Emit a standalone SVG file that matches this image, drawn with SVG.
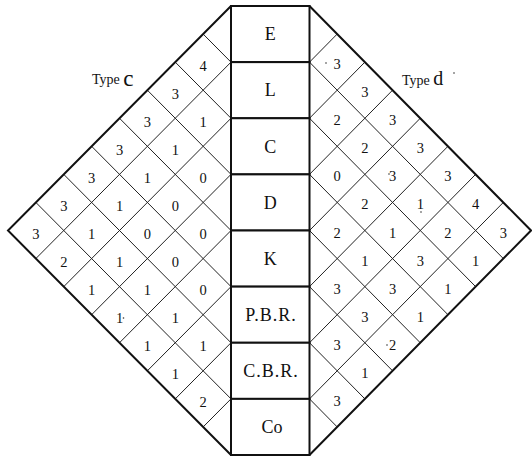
<svg xmlns="http://www.w3.org/2000/svg" width="532" height="457" viewBox="0 0 532 457">
  <style>
    .bg { fill: #ffffff; }
    .edge { fill: none; stroke: #111; stroke-width: 2; stroke-linejoin: miter; }
    .grid line { stroke: #222; stroke-width: 1; }
    .cell { fill: #ffffff; stroke: #111; stroke-width: 2; }
    .lbl { font-family: "Liberation Serif", "Times New Roman", serif; font-size: 18px; fill: #111; text-anchor: middle; }
    .num { font-family: "Liberation Serif", "Times New Roman", serif; font-size: 14.5px; fill: #111; text-anchor: middle; }
    .ttl { font-family: "Liberation Serif", "Times New Roman", serif; font-size: 14px; fill: #111; }
    .speck { fill: #333; }
  </style>
  <rect class="bg" x="0" y="0" width="532" height="457"/>

  <!-- diagonal grids on both sides of the column -->
  <g id="connectors">
    <g id="grid-left" class="grid">
      <line x1="231" y1="62.13" x2="203.13" y2="34.06"/>
      <line x1="231" y1="118.25" x2="175.25" y2="62.13"/>
      <line x1="231" y1="174.38" x2="147.38" y2="90.19"/>
      <line x1="231" y1="230.5" x2="119.5" y2="118.25"/>
      <line x1="231" y1="286.63" x2="91.63" y2="146.31"/>
      <line x1="231" y1="342.75" x2="63.75" y2="174.38"/>
      <line x1="231" y1="398.88" x2="35.88" y2="202.44"/>
      <line x1="231" y1="62.13" x2="35.88" y2="258.56"/>
      <line x1="231" y1="118.25" x2="63.75" y2="286.63"/>
      <line x1="231" y1="174.38" x2="91.63" y2="314.69"/>
      <line x1="231" y1="230.5" x2="119.5" y2="342.75"/>
      <line x1="231" y1="286.63" x2="147.38" y2="370.81"/>
      <line x1="231" y1="342.75" x2="175.25" y2="398.88"/>
      <line x1="231" y1="398.88" x2="203.13" y2="426.94"/>
    </g>
    <g id="grid-right" class="grid">
      <line x1="309.5" y1="62.13" x2="337.19" y2="34.06"/>
      <line x1="309.5" y1="118.25" x2="364.88" y2="62.13"/>
      <line x1="309.5" y1="174.38" x2="392.56" y2="90.19"/>
      <line x1="309.5" y1="230.5" x2="420.25" y2="118.25"/>
      <line x1="309.5" y1="286.63" x2="447.94" y2="146.31"/>
      <line x1="309.5" y1="342.75" x2="475.63" y2="174.38"/>
      <line x1="309.5" y1="398.88" x2="503.31" y2="202.44"/>
      <line x1="309.5" y1="62.13" x2="503.31" y2="258.56"/>
      <line x1="309.5" y1="118.25" x2="475.63" y2="286.63"/>
      <line x1="309.5" y1="174.38" x2="447.94" y2="314.69"/>
      <line x1="309.5" y1="230.5" x2="420.25" y2="342.75"/>
      <line x1="309.5" y1="286.63" x2="392.56" y2="370.81"/>
      <line x1="309.5" y1="342.75" x2="364.88" y2="398.88"/>
      <line x1="309.5" y1="398.88" x2="337.19" y2="426.94"/>
    </g>
    <polyline id="outline-left" class="edge" points="231,6 8,230.5 231,455"/>
    <polyline id="outline-right" class="edge" points="309.5,6 531,230.5 309.5,455"/>
  </g>

  <!-- central column of named rows -->
  <g id="row-E"><rect class="cell" x="231" y="6" width="78.5" height="56.13"/><text class="lbl" x="270.25" y="40">E</text></g>
  <g id="row-L"><rect class="cell" x="231" y="62.13" width="78.5" height="56.13"/><text class="lbl" x="270.25" y="96">L</text></g>
  <g id="row-C"><rect class="cell" x="231" y="118.25" width="78.5" height="56.13"/><text class="lbl" x="270.25" y="152.5">C</text></g>
  <g id="row-D"><rect class="cell" x="231" y="174.38" width="78.5" height="56.13"/><text class="lbl" x="270.25" y="208.5">D</text></g>
  <g id="row-K"><rect class="cell" x="231" y="230.5" width="78.5" height="56.13"/><text class="lbl" x="270.25" y="264.5">K</text></g>
  <g id="row-PBR"><rect class="cell" x="231" y="286.63" width="78.5" height="56.13"/><text class="lbl" x="271" y="321" letter-spacing="1">P.B.R.</text></g>
  <g id="row-CBR"><rect class="cell" x="231" y="342.75" width="78.5" height="56.13"/><text class="lbl" x="271" y="377" letter-spacing="1">C.B.R.</text></g>
  <g id="row-Co"><rect class="cell" x="231" y="398.88" width="78.5" height="56.12"/><text class="lbl" x="272" y="433">Co</text></g>

  <!-- side titles -->
  <g id="title-c"><text class="ttl" x="92" y="84">Type <tspan font-size="23" dy="2">c</tspan></text></g>
  <g id="title-d"><text class="ttl" x="402" y="85">Type <tspan font-size="20">d</tspan></text><circle class="speck" cx="454" cy="73" r="0.8"/></g>

  <!-- values, left side -->
  <g id="values-c" class="num">
    <text x="203.13" y="70.6">4</text>
    <text x="175.25" y="98.7">3</text>
    <text x="147.38" y="126.8">3</text><text x="203.13" y="126.8">1</text>
    <text x="119.5" y="154.8">3</text><text x="175.25" y="154.8">1</text>
    <text x="91.63" y="182.9">3</text><text x="147.38" y="182.9">1</text><text x="203.13" y="182.9">0</text>
    <text x="63.75" y="210.9">3</text><text x="119.5" y="210.9">1</text><text x="175.25" y="210.9">0</text>
    <text x="35.88" y="239">3</text><text x="91.63" y="239">1</text><text x="147.38" y="239">0</text><text x="203.13" y="239">0</text>
    <text x="63.75" y="267.1">2</text><text x="119.5" y="267.1">1</text><text x="175.25" y="267.1">0</text>
    <text x="91.63" y="295.1">1</text><text x="147.38" y="295.1">1</text><text x="203.13" y="295.1">0</text>
    <text x="119.5" y="323.2">1</text><text x="175.25" y="323.2">1</text>
    <text x="147.38" y="351.3">1</text><text x="203.13" y="351.3">1</text>
    <text x="175.25" y="379.3">1</text>
    <text x="203.13" y="407.4">2</text>
  </g>

  <!-- values, right side -->
  <g id="values-d" class="num">
    <text x="337.19" y="69.1">3</text>
    <text x="364.88" y="97.2">3</text>
    <text x="337.19" y="125.3">2</text><text x="392.56" y="125.3">3</text>
    <text x="364.88" y="153.3">2</text><text x="420.25" y="153.3">3</text>
    <text x="337.19" y="181.4">0</text><text x="392.56" y="181.4">3</text><text x="447.94" y="181.4">3</text>
    <text x="364.88" y="209.4">2</text><text x="420.25" y="209.4">1</text><text x="475.63" y="209.4">4</text>
    <text x="337.19" y="237.5">2</text><text x="392.56" y="237.5">1</text><text x="447.94" y="237.5">2</text><text x="503.31" y="237.5">3</text>
    <text x="364.88" y="265.6">1</text><text x="420.25" y="265.6">3</text><text x="475.63" y="265.6">1</text>
    <text x="337.19" y="293.6">3</text><text x="392.56" y="293.6">3</text><text x="447.94" y="293.6">1</text>
    <text x="364.88" y="321.7">3</text><text x="420.25" y="321.7">1</text>
    <text x="337.19" y="349.8">3</text><text x="392.56" y="349.8">2</text>
    <text x="364.88" y="377.8">1</text>
    <text x="337.19" y="405.9">3</text>
  </g>

  <!-- stray print specks beside some figures -->
  <g id="specks">
    <circle class="speck" cx="326" cy="63" r="0.8"/>
    <circle class="speck" cx="389" cy="174" r="0.8"/>
    <circle class="speck" cx="421" cy="212" r="0.8"/>
    <circle class="speck" cx="123.5" cy="318" r="0.8"/>
    <circle class="speck" cx="387" cy="345" r="0.8"/>
  </g>
</svg>
